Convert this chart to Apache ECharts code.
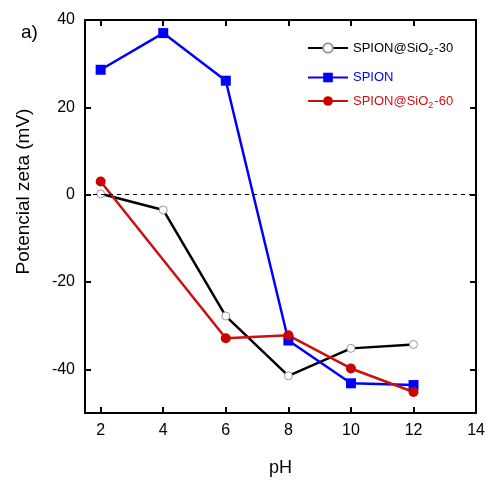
<!DOCTYPE html>
<html><head><meta charset="utf-8">
<script src="https://cdn.jsdelivr.net/npm/echarts@6/dist/echarts.min.js"></script>
<style>html,body{margin:0;padding:0;background:#fff}#c{width:488px;height:482px}</style>
</head><body><div id="c"></div>
<script>
var pH = [2, 4, 6, 8, 10, 12];
var sio30 = [0.2, -3.5, -27.8, -41.5, -35.2, -34.3];
var spion = [28.6, 37.0, 26.1, -33.4, -43.2, -43.6];
var sio60 = [3.0, null, -32.9, -32.2, -39.8, -45.2];
var xTicks = [2, 4, 6, 8, 10, 12, 14];
var yTicks = [-40, -20, 0, 20, 40];
var names = ['SPION@SiO2-30', 'SPION', 'SPION@SiO2-60'];

function pairs(ys) {
  var out = [];
  for (var i = 0; i < pH.length; i++) if (ys[i] !== null) out.push([pH[i], ys[i]]);
  return out;
}
var F = 'Liberation Sans, Arial, sans-serif';
var axisCommon = {
  axisLine: {show: true, onZero: false, lineStyle: {color: '#000', width: 2}},
  axisTick: {show: true, inside: true, length: 6, lineStyle: {color: '#000', width: 2}},
  splitLine: {show: false}
};
function legendFor(name, color, top, rich) {
  return {
    data: [{name: name}],
    left: 307, top: top, orient: 'vertical',
    itemWidth: 40, itemHeight: 12, itemGap: 0, padding: 0,
    textStyle: {color: color, fontFamily: F, fontSize: 13, rich: rich},
    formatter: function (n) {
      if (n.indexOf('SiO2') >= 0) {
        var parts = n.split('SiO2');
        return '{a|' + parts[0] + 'SiO}{s|2}{a|' + parts[1] + '}';
      }
      return n;
    }
  };
}
function richFor(color) {
  return {
    a: {color: color, fontFamily: F, fontSize: 13, lineHeight: 16},
    s: {color: color, fontFamily: F, fontSize: 9, lineHeight: 16, padding: [9, 1, 0, 0]}
  };
}
var chart = echarts.init(document.getElementById('c'));
chart.setOption({
  animation: false,
  backgroundColor: '#fff',
  grid: {left: 85, right: 11, top: 20, bottom: 69, containLabel: false},
  title: {text: 'a)', left: 16, top: 18, textStyle: {fontFamily: F, fontSize: 19, fontWeight: 'normal', color: '#000'}},
  legend: [
    legendFor(names[0], '#000', 39, richFor('#000')),
    legendFor(names[1], '#0000ff', 71, richFor('#0000ff')),
    legendFor(names[2], '#d01010', 92, richFor('#d01010'))
  ],
  xAxis: [
    Object.assign({}, axisCommon, {
      type: 'value', min: 1.5, max: 14, position: 'bottom',
      name: 'pH', nameLocation: 'middle', nameGap: 46,
      nameTextStyle: {fontFamily: F, fontSize: 18, color: '#000'},
      axisLabel: {customValues: xTicks, color: '#000', fontFamily: F, fontSize: 16, margin: 10},
      axisTick: Object.assign({}, axisCommon.axisTick, {customValues: xTicks})
    }),
    Object.assign({}, axisCommon, {
      type: 'value', min: 1.5, max: 14, position: 'top',
      axisLabel: {show: false, customValues: xTicks},
      axisTick: Object.assign({}, axisCommon.axisTick, {customValues: xTicks})
    })
  ],
  yAxis: [
    Object.assign({}, axisCommon, {
      type: 'value', min: -50, max: 40, position: 'left',
      name: 'Potencial zeta (mV)', nameLocation: 'middle', nameGap: 52, nameRotate: 90,
      nameTextStyle: {fontFamily: F, fontSize: 19, color: '#000', padding: [0, 0, 0, 50]},
      axisLabel: {customValues: yTicks, color: '#000', fontFamily: F, fontSize: 16, margin: 10},
      axisTick: Object.assign({}, axisCommon.axisTick, {customValues: yTicks})
    }),
    Object.assign({}, axisCommon, {
      type: 'value', min: -50, max: 40, position: 'right',
      axisLabel: {show: false, customValues: yTicks},
      axisTick: Object.assign({}, axisCommon.axisTick, {customValues: yTicks})
    })
  ],
  series: [
    {
      name: names[0], type: 'line', data: pairs(sio30),
      symbol: 'circle', symbolSize: 8,
      itemStyle: {color: '#ffffff', borderColor: '#999', borderWidth: 1},
      lineStyle: {color: '#000', width: 2.5},
      markLine: {
        silent: true, symbol: 'none', label: {show: false},
        lineStyle: {color: '#000', width: 1, type: [4, 4]},
        data: [{yAxis: 0}]
      }
    },
    {
      name: names[1], type: 'line', data: pairs(spion),
      symbol: 'rect', symbolSize: 10,
      itemStyle: {color: '#0000ff'},
      lineStyle: {color: '#0000ff', width: 2.5}
    },
    {
      name: names[2], type: 'line', data: pairs(sio60),
      symbol: 'circle', symbolSize: 10,
      itemStyle: {color: '#cc0000'},
      lineStyle: {color: '#cc1010', width: 2.5}
    }
  ]
});
</script></body></html>
